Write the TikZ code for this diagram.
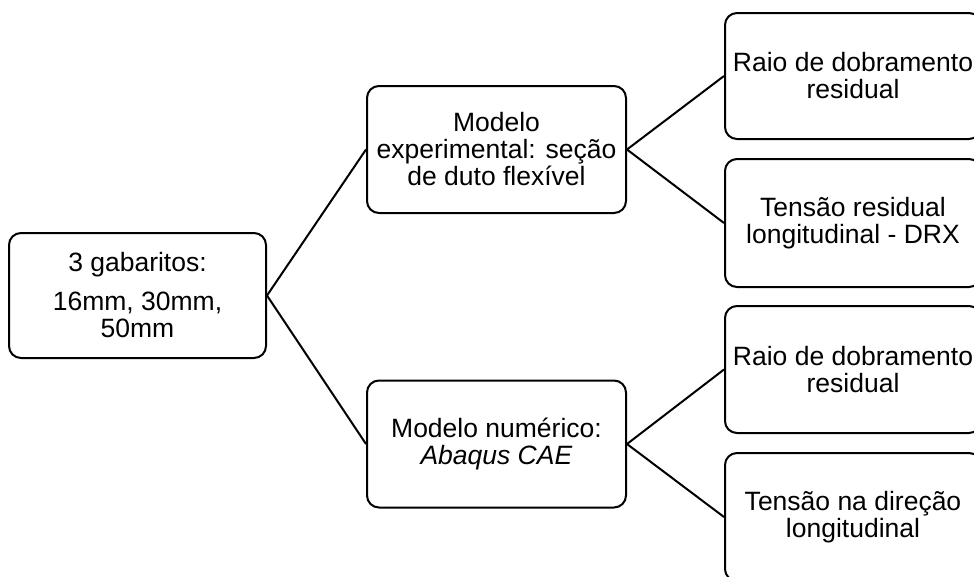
\documentclass[tikz,border=0pt]{standalone}
\usepackage{fontspec}
\setmainfont{Liberation Sans}
\usepackage{tikz}

\begin{document}
\begin{tikzpicture}[x=1pt, y=-1pt,
  caixa/.style={draw, line width=2pt, rounded corners=12pt, align=center,
    inner sep=2pt, minimum width=#1, minimum height=127pt,
    font=\fontsize{26.5}{27}\selectfont},
  liga/.style={line width=2pt}]

  % Page size of the reference.
  \useasboundingbox (0,0) rectangle (974,576);

  % First column.
  \node[caixa=257pt, minimum height=125pt] (gab) at (137.5,295.5)
    {3 gabaritos:\\[12pt]16mm, 30mm,\\50mm};

  % Models.
  \node[caixa=259pt] (exp) at (496.5,149.5)
    {Modelo\\experimental: seção\\de duto flexível};
  \node[caixa=259pt] (num) at (496.5,444)
    {Modelo numérico:\\\textit{Abaqus CAE}};

  % Results (cut by the right and bottom edges).
  \node[caixa=256pt, minimum height=126pt] (raioexp) at (853,76)
    {Raio de dobramento\\residual};
  \node[caixa=256pt, minimum height=128pt] (tensexp) at (853,223)
    {Tensão residual\\longitudinal - DRX};
  \node[caixa=256pt] (raionum) at (853,369.5)
    {Raio de dobramento\\residual};
  \node[caixa=256pt, minimum height=128pt] (tensnum) at (853,517)
    {Tensão na direção\\longitudinal};

  % Connectors.
  \draw[liga] (gab.east) -- (exp.west);
  \draw[liga] (gab.east) -- (num.west);
  \draw[liga] (exp.east) -- (raioexp.west);
  \draw[liga] (exp.east) -- (tensexp.west);
  \draw[liga] (num.east) -- (raionum.west);
  \draw[liga] (num.east) -- (tensnum.west);
\end{tikzpicture}
\end{document}
